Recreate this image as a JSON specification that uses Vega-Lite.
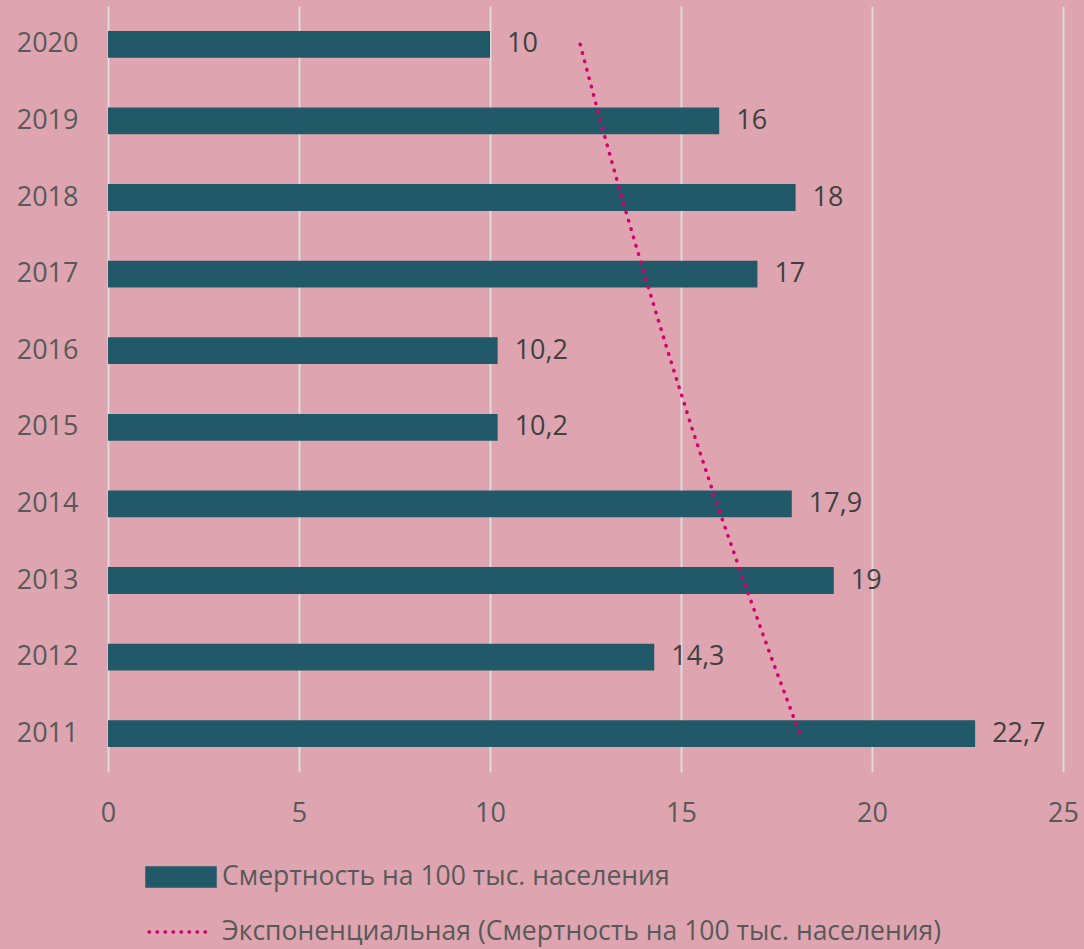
{
  "$schema": "https://vega.github.io/schema/vega-lite/v6.json",
  "autosize": {"type": "none"},
  "padding": {"left": 108, "top": 6, "right": 21, "bottom": 177},
  "width": 955,
  "height": 766,
  "background": "#dea5b0",
  "config": {
    "view": {"stroke": null},
    "font": "Open Sans",
    "locale": {"number": {"decimal": ",", "thousands": " ", "grouping": [3], "currency": ["", ""]}}
  },
  "datasets": {
    "bars": [
      {"year": "2011", "value": 22.7},
      {"year": "2012", "value": 14.3},
      {"year": "2013", "value": 19},
      {"year": "2014", "value": 17.9},
      {"year": "2015", "value": 10.2},
      {"year": "2016", "value": 10.2},
      {"year": "2017", "value": 17},
      {"year": "2018", "value": 18},
      {"year": "2019", "value": 16},
      {"year": "2020", "value": 10}
    ],
    "trend": [
      {"year": "2011", "value": 18.11},
      {"year": "2012", "value": 17.36},
      {"year": "2013", "value": 16.64},
      {"year": "2014", "value": 15.94},
      {"year": "2015", "value": 15.28},
      {"year": "2016", "value": 14.65},
      {"year": "2017", "value": 14.04},
      {"year": "2018", "value": 13.45},
      {"year": "2019", "value": 12.89},
      {"year": "2020", "value": 12.36}
    ]
  },
  "encoding": {
    "y": {
      "field": "year",
      "type": "nominal",
      "sort": "descending",
      "scale": {"paddingInner": 0.65, "paddingOuter": 0.325},
      "axis": {
        "title": null,
        "domain": false,
        "ticks": false,
        "labelPadding": 30,
        "labelFontSize": 27,
        "labelColor": "#595959",
        "labelFont": "Open Sans"
      }
    },
    "x": {
      "field": "value",
      "type": "quantitative",
      "scale": {"domain": [0, 25], "nice": false},
      "axis": {
        "title": null,
        "values": [0, 5, 10, 15, 20, 25],
        "domain": false,
        "ticks": false,
        "grid": true,
        "gridColor": "#dcdcdc",
        "gridWidth": 2,
        "labelFlush": false,
        "labelPadding": 28,
        "labelFontSize": 27,
        "labelColor": "#595959",
        "labelFont": "Open Sans"
      }
    }
  },
  "layer": [
    {
      "data": {"name": "bars"},
      "mark": {"type": "bar"},
      "encoding": {
        "color": {
          "datum": "Смертность на 100 тыс. населения",
          "type": "nominal",
          "scale": {
            "domain": ["Смертность на 100 тыс. населения", "Экспоненциальная (Смертность на 100 тыс. населения)"],
            "range": ["#215968", "#d6006e"]
          },
          "legend": {
            "title": null,
            "orient": "none",
            "legendX": 55,
            "legendY": 853,
            "direction": "vertical",
            "padding": 0,
            "symbolSize": 1024,
            "labelOffset": 23,
            "rowPadding": 21,
            "labelFontSize": 26.5,
            "labelColor": "#595959",
            "labelFont": "Open Sans",
            "labelLimit": 1000,
            "encode": {
              "symbols": {
                "update": {
                  "shape": {"signal": "datum.index === 0 ? 'M-2.125,-0.56H2.125V0.56H-2.125Z' : 'M-2.0,0H1.9'"},
                  "fill": {"signal": "datum.index === 0 ? '#215968' : 'transparent'"},
                  "stroke": {"signal": "datum.index === 0 ? 'transparent' : '#d6006e'"},
                  "strokeWidth": {"value": 3.5},
                  "strokeDash": {"signal": "datum.index === 0 ? [] : [0.5, 7.5]"},
                  "strokeCap": {"value": "round"},
                  "opacity": {"value": 1}
                }
              }
            }
          }
        }
      }
    },
    {
      "data": {"name": "bars"},
      "mark": {"type": "text", "align": "left", "baseline": "middle", "dx": 17, "fontSize": 27, "color": "#404040", "font": "Open Sans"},
      "encoding": {
        "text": {"field": "value", "type": "quantitative", "format": "~g"}
      }
    },
    {
      "data": {"name": "trend"},
      "mark": {"type": "line", "strokeWidth": 3.5, "strokeDash": [0.5, 8.2], "strokeCap": "round"},
      "encoding": {
        "color": {"datum": "Экспоненциальная (Смертность на 100 тыс. населения)", "type": "nominal"}
      }
    }
  ]
}
